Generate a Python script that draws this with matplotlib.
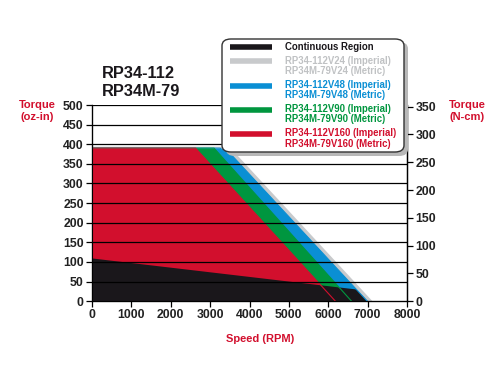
import matplotlib
matplotlib.use("Agg")
import matplotlib.pyplot as plt
from matplotlib.patches import FancyBboxPatch
from matplotlib.lines import Line2D

# ---- data ----
gray_speed = [0, 3350, 3650, 7120]
gray_torque = [395, 395, 376, 0]
blue_speed = [0, 3250, 3550, 6990]
blue_torque = [390, 390, 372, 0]
green_speed = [0, 3100, 6590]
green_torque = [390, 390, 0]
red_speed = [0, 2630, 6180]
red_torque = [390, 390, 0]
cont_speed = [0, 6700, 7000]
cont_torque = [110, 31, 0]

x_ticks = [0, 1000, 2000, 3000, 4000, 5000, 6000, 7000, 8000]
y_ticks = [0, 50, 100, 150, 200, 250, 300, 350, 400, 450, 500]
ncm_ticks = [0, 50, 100, 150, 200, 250, 300, 350]
OZIN_TO_NCM = 0.7062

legend_labels = [
    ["Continuous Region"],
    ["RP34-112V24 (Imperial)", "RP34M-79V24 (Metric)"],
    ["RP34-112V48 (Imperial)", "RP34M-79V48 (Metric)"],
    ["RP34-112V90 (Imperial)", "RP34M-79V90 (Metric)"],
    ["RP34-112V160 (Imperial)", "RP34M-79V160 (Metric)"],
]

BLACK = "#1a171b"
GRAY = "#c8cacc"
BLUE = "#0a8fd4"
GREEN = "#00963f"
RED = "#d20f2d"
legend_colors = [BLACK, GRAY, BLUE, GREEN, RED]
text_colors = [BLACK, "#c0c2c4", BLUE, GREEN, RED]

FONT = "Liberation Sans"
plt.rcParams["font.family"] = [FONT, "DejaVu Sans"]

fig = plt.figure(figsize=(5, 3.75), dpi=100)
ax = fig.add_axes([0.184, 0.197, 0.630, 0.523])

ax.fill_between(gray_speed, gray_torque, color=GRAY, lw=0, zorder=1)
ax.fill_between(blue_speed, blue_torque, color=BLUE, lw=0, zorder=2)
ax.fill_between(green_speed, green_torque, color=GREEN, lw=0, zorder=3)
ax.fill_between(red_speed, red_torque, color=RED, lw=0, zorder=4)
ax.fill_between(cont_speed, cont_torque, color=BLACK, lw=0, zorder=5)
for sp, tq, c in [(blue_speed, blue_torque, BLUE), (green_speed, green_torque, GREEN),
                  (red_speed, red_torque, RED)]:
    ax.plot(sp, tq, color=c, lw=0.8, zorder=6)

for y in y_ticks[1:]:
    ax.axhline(y, color="black", lw=0.9, zorder=7)

ax.set_xlim(0, 8000)
ax.set_ylim(0, 500)
ax.set_xticks(x_ticks)
ax.set_yticks(y_ticks)
ax.tick_params(direction="out", length=4, width=0.9, labelsize=8.8, pad=2)
for lab in ax.get_xticklabels() + ax.get_yticklabels():
    lab.set_fontweight("bold")
    lab.set_color("#222222")
ax.spines["top"].set_visible(False)
for s in ["left", "bottom", "right"]:
    ax.spines[s].set_linewidth(0.9)

ax2 = ax.twinx()
ax2.set_ylim(0, 500 * OZIN_TO_NCM)
ax2.set_yticks(ncm_ticks)
ax2.tick_params(direction="out", length=4, width=0.9, labelsize=8.8, pad=2)
for lab in ax2.get_yticklabels():
    lab.set_fontweight("bold")
    lab.set_color("#222222")
ax2.spines["top"].set_visible(False)
ax2.spines["right"].set_linewidth(0.9)

fig.text(0.204, 0.805, "RP34-112", fontsize=11.8, fontweight="bold", color=BLACK, va="center")
fig.text(0.204, 0.757, "RP34M-79", fontsize=11.8, fontweight="bold", color=BLACK, va="center")
fig.text(0.075, 0.704, "Torque\n(oz-in)", fontsize=8, fontweight="bold", color=RED,
         ha="center", va="center", linespacing=1.15)
fig.text(0.935, 0.704, "Torque\n(N-cm)", fontsize=8, fontweight="bold", color=RED,
         ha="center", va="center", linespacing=1.15)
fig.text(0.52, 0.096, "Speed (RPM)", fontsize=8, fontweight="bold", color=RED,
         ha="center", va="center")

# legend box (figure pixel coords -> fractions)
W, H = 500, 375
def fx(px): return px / W
def fy(py): return 1 - py / H

shadow = FancyBboxPatch((fx(226), fy(156)), fx(408) - fx(226), fy(42) - fy(156),
                        boxstyle="round,pad=0,rounding_size=0.018", transform=fig.transFigure,
                        facecolor="#b8b8b8", edgecolor="none", zorder=20)
fig.add_artist(shadow)
box = FancyBboxPatch((fx(222), fy(152)), fx(404) - fx(222), fy(39) - fy(152),
                     boxstyle="round,pad=0,rounding_size=0.018", transform=fig.transFigure,
                     facecolor="white", edgecolor="#333333", lw=1.0, zorder=21)
fig.add_artist(box)

bar_y = [47, 61, 86, 110, 134]
for i, (labs, lc, tc) in enumerate(zip(legend_labels, legend_colors, text_colors)):
    yb = bar_y[i]
    fig.add_artist(Line2D([fx(230), fx(272)], [fy(yb), fy(yb)], color=lc, lw=4,
                          solid_capstyle="butt", transform=fig.transFigure, zorder=22))
    for j, t in enumerate(labs):
        fig.text(fx(285), fy(yb - 0.5 + j * 10), t, fontsize=6.9, fontweight="bold",
                 color=tc, va="center", ha="left", zorder=23)

fig.savefig("out.png", dpi=100)
